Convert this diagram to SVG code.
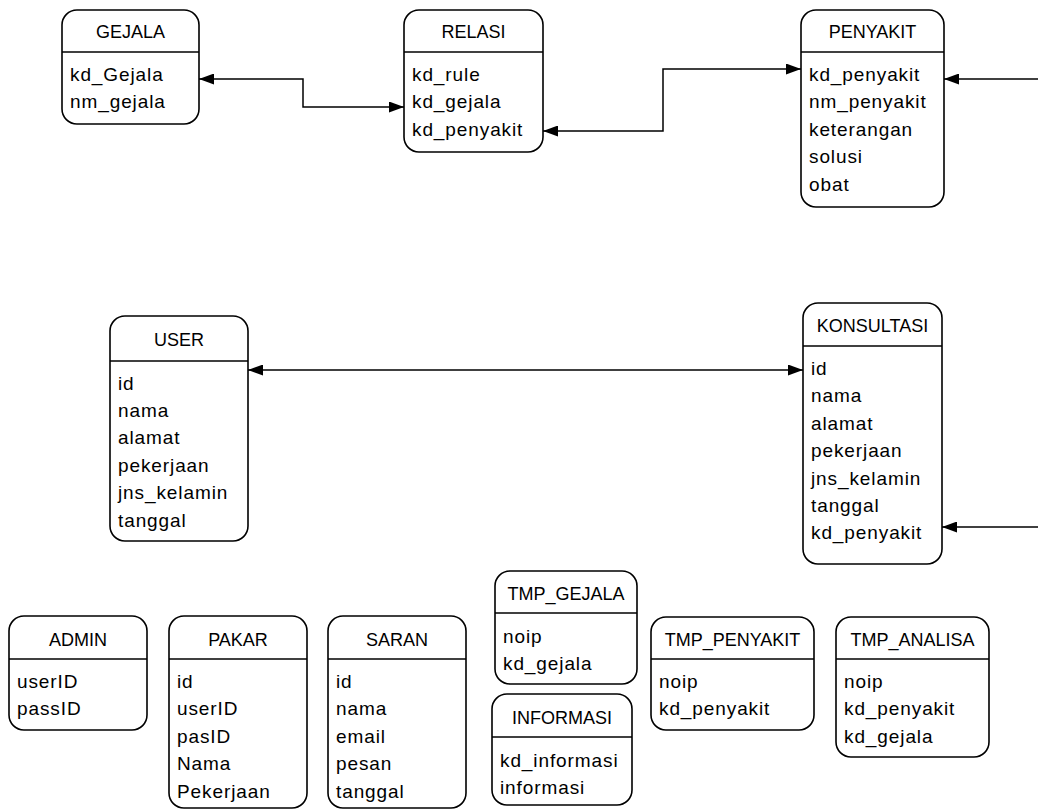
<svg xmlns="http://www.w3.org/2000/svg" width="1038" height="810" viewBox="0 0 1038 810">
<style>
.box{fill:#fff;stroke:#000;stroke-width:1.6}
.div{stroke:#000;stroke-width:1.6}
.h{font-family:"Liberation Sans",Arial,sans-serif;font-size:18px;text-anchor:middle;fill:#000}
.f{font-family:"Liberation Sans",Arial,sans-serif;font-size:19px;letter-spacing:0.9px;fill:#000}
.c{fill:none;stroke:#000;stroke-width:1.5}
</style>
<defs>
<marker id="ah" viewBox="0 0 15 11" refX="15" refY="5.5" markerWidth="15" markerHeight="11" markerUnits="userSpaceOnUse" orient="auto-start-reverse">
<path d="M0,0 L15,5.5 L0,11 z" fill="#000"/>
</marker>
</defs>
<rect width="1038" height="810" fill="#fff"/>
<g id="connectors">
<path class="c" d="M199,79 H303 V107 H404" marker-start="url(#ah)" marker-end="url(#ah)"/>
<path class="c" d="M543,131 H663 V69 H801" marker-start="url(#ah)" marker-end="url(#ah)"/>
<path class="c" d="M1038,79 H944" marker-end="url(#ah)"/>
<path class="c" d="M248,370 H803" marker-start="url(#ah)" marker-end="url(#ah)"/>
<path class="c" d="M1038,527 H942" marker-end="url(#ah)"/>
</g>
<g id="gejala">
<rect class="box" x="62" y="10" width="137" height="114" rx="15"/>
<line class="div" x1="62" y1="52" x2="199" y2="52"/>
<text class="h" x="130.5" y="38">GEJALA</text>
<text class="f" x="70" y="81">kd_Gejala</text>
<text class="f" x="70" y="108.4">nm_gejala</text>
</g>
<g id="relasi">
<rect class="box" x="404" y="10" width="139" height="142" rx="15"/>
<line class="div" x1="404" y1="52" x2="543" y2="52"/>
<text class="h" x="473.5" y="38">RELASI</text>
<text class="f" x="412" y="81">kd_rule</text>
<text class="f" x="412" y="108.4">kd_gejala</text>
<text class="f" x="412" y="135.8">kd_penyakit</text>
</g>
<g id="penyakit">
<rect class="box" x="801" y="10" width="143" height="197" rx="15"/>
<line class="div" x1="801" y1="52" x2="944" y2="52"/>
<text class="h" x="872.5" y="38">PENYAKIT</text>
<text class="f" x="809" y="81">kd_penyakit</text>
<text class="f" x="809" y="108.4">nm_penyakit</text>
<text class="f" x="809" y="135.8">keterangan</text>
<text class="f" x="809" y="163.2">solusi</text>
<text class="f" x="809" y="190.6">obat</text>
</g>
<g id="user">
<rect class="box" x="110" y="316" width="138" height="225" rx="15"/>
<line class="div" x1="110" y1="361" x2="248" y2="361"/>
<text class="h" x="179" y="346">USER</text>
<text class="f" x="118" y="389.5">id</text>
<text class="f" x="118" y="416.9">nama</text>
<text class="f" x="118" y="444.3">alamat</text>
<text class="f" x="118" y="471.7">pekerjaan</text>
<text class="f" x="118" y="499.1">jns_kelamin</text>
<text class="f" x="118" y="526.5">tanggal</text>
</g>
<g id="konsultasi">
<rect class="box" x="803" y="303" width="139" height="261" rx="15"/>
<line class="div" x1="803" y1="346" x2="942" y2="346"/>
<text class="h" x="872.5" y="332">KONSULTASI</text>
<text class="f" x="811" y="375">id</text>
<text class="f" x="811" y="402.4">nama</text>
<text class="f" x="811" y="429.8">alamat</text>
<text class="f" x="811" y="457.2">pekerjaan</text>
<text class="f" x="811" y="484.6">jns_kelamin</text>
<text class="f" x="811" y="512">tanggal</text>
<text class="f" x="811" y="539.4">kd_penyakit</text>
</g>
<g id="admin">
<rect class="box" x="9" y="616" width="138" height="114" rx="15"/>
<line class="div" x1="9" y1="659" x2="147" y2="659"/>
<text class="h" x="78" y="646">ADMIN</text>
<text class="f" x="17" y="688">userID</text>
<text class="f" x="17" y="715.4">passID</text>
</g>
<g id="pakar">
<rect class="box" x="169" y="616" width="138" height="192" rx="15"/>
<line class="div" x1="169" y1="659" x2="307" y2="659"/>
<text class="h" x="238" y="646">PAKAR</text>
<text class="f" x="177" y="688">id</text>
<text class="f" x="177" y="715.4">userID</text>
<text class="f" x="177" y="742.8">pasID</text>
<text class="f" x="177" y="770.2">Nama</text>
<text class="f" x="177" y="797.6">Pekerjaan</text>
</g>
<g id="saran">
<rect class="box" x="328" y="616" width="138" height="192" rx="15"/>
<line class="div" x1="328" y1="659" x2="466" y2="659"/>
<text class="h" x="397" y="646">SARAN</text>
<text class="f" x="336" y="688">id</text>
<text class="f" x="336" y="715.4">nama</text>
<text class="f" x="336" y="742.8">email</text>
<text class="f" x="336" y="770.2">pesan</text>
<text class="f" x="336" y="797.6">tanggal</text>
</g>
<g id="tmp_gejala">
<rect class="box" x="495" y="571" width="142" height="113" rx="15"/>
<line class="div" x1="495" y1="613" x2="637" y2="613"/>
<text class="h" x="566" y="600">TMP_GEJALA</text>
<text class="f" x="503" y="643">noip</text>
<text class="f" x="503" y="670.4">kd_gejala</text>
</g>
<g id="informasi">
<rect class="box" x="492" y="694" width="140" height="111" rx="15"/>
<line class="div" x1="492" y1="737" x2="632" y2="737"/>
<text class="h" x="562" y="724">INFORMASI</text>
<text class="f" x="500" y="767">kd_informasi</text>
<text class="f" x="500" y="794">informasi</text>
</g>
<g id="tmp_penyakit">
<rect class="box" x="651" y="617" width="163" height="113" rx="15"/>
<line class="div" x1="651" y1="659" x2="814" y2="659"/>
<text class="h" x="732.5" y="646">TMP_PENYAKIT</text>
<text class="f" x="659" y="688">noip</text>
<text class="f" x="659" y="715.4">kd_penyakit</text>
</g>
<g id="tmp_analisa">
<rect class="box" x="836" y="617" width="153" height="140" rx="15"/>
<line class="div" x1="836" y1="659" x2="989" y2="659"/>
<text class="h" x="912.5" y="646">TMP_ANALISA</text>
<text class="f" x="844" y="688">noip</text>
<text class="f" x="844" y="715.4">kd_penyakit</text>
<text class="f" x="844" y="742.8">kd_gejala</text>
</g>
</svg>
